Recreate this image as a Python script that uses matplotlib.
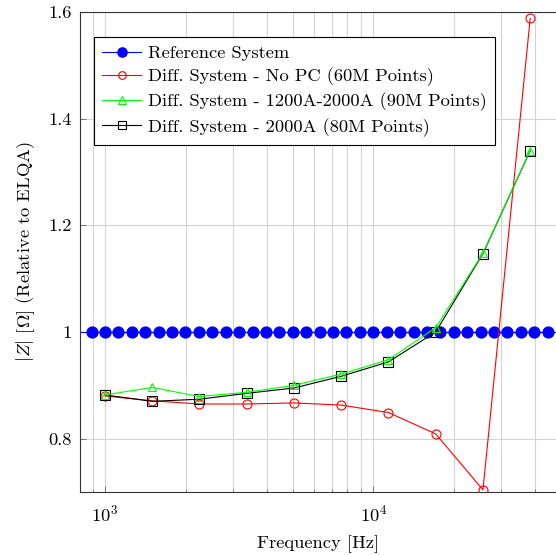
import matplotlib
matplotlib.use("Agg")
import matplotlib.pyplot as plt
from matplotlib.ticker import FixedLocator, FixedFormatter, LogLocator, NullFormatter

plt.rcParams['font.family'] = ['cmr10', 'DejaVu Serif']
plt.rcParams['mathtext.fontset'] = 'cm'
plt.rcParams['axes.formatter.use_mathtext'] = True
plt.rcParams['font.size'] = 13.3

# Reference system (constant 1)
ref_freq = [891, 1000, 1122, 1259, 1413, 1585, 1778, 1995, 2239, 2512, 2818, 3162,
            3548, 3981, 4467, 5012, 5623, 6310, 7079, 7943, 8913, 10000, 11220,
            12589, 14125, 15849, 17783, 19953, 22387, 25119, 28184, 31623, 35481,
            39811, 44668]
ref_vals = [1.0] * len(ref_freq)

freq = [1000, 1500, 2250, 3375, 5062.5, 7593.75, 11390.6, 17085.9, 25628.9, 38443.4]
no_pc = [0.880, 0.871, 0.865, 0.865, 0.867, 0.863, 0.849, 0.809, 0.704, 1.588]
pc_1200_2000 = [0.882, 0.896, 0.879, 0.887, 0.900, 0.921, 0.948, 1.008, 1.148, 1.340]
pc_2000 = [0.882, 0.870, 0.874, 0.885, 0.895, 0.917, 0.944, 1.000, 1.147, 1.340]

labels = ['Reference System',
          'Diff. System - No PC (60M Points)',
          'Diff. System - 1200A-2000A (90M Points)',
          'Diff. System - 2000A (80M Points)']

yticks = [0.8, 1.0, 1.2, 1.4, 1.6]
yticklabels = ['0.8', '1', '1.2', '1.4', '1.6']

fig = plt.figure(figsize=(5.56, 5.55), dpi=100)
ax = fig.add_axes([80/556, 63/555, 1 - 80/556, (492 - 12)/555])

ax.axhline(1.0, color='blue', lw=0.8, zorder=2)
ax.plot(ref_freq, ref_vals, '-o', color='blue', lw=0.8, ms=7.8,
        label=labels[0], zorder=3)
ax.plot(freq, no_pc, '-o', color='red', lw=0.8, ms=6.5, mfc='none', mew=0.8,
        label=labels[1], zorder=4)
ax.plot(freq, pc_1200_2000, '-^', color='#00ff00', lw=0.8, ms=6.0, mfc='none', mew=0.8,
        label=labels[2], zorder=5)
ax.plot(freq, pc_2000, '-s', color='black', lw=0.8, ms=6.5, mfc='none', mew=0.8,
        label=labels[3], zorder=4.5)

ax.set_xscale('log')
ax.set_xlim(10**2.9068, 10**4.681)
ax.set_ylim(0.7, 1.6)

ax.yaxis.set_major_locator(FixedLocator(yticks))
ax.yaxis.set_major_formatter(FixedFormatter(yticklabels))
ax.xaxis.set_major_locator(LogLocator(base=10))
ax.xaxis.set_minor_locator(LogLocator(base=10, subs=range(2, 10)))
ax.xaxis.set_minor_formatter(NullFormatter())

ax.grid(True, which='major', color='#d3d3d3', lw=0.8)
ax.grid(True, which='minor', axis='x', color='#d3d3d3', lw=0.8)
ax.set_axisbelow(True)

ax.tick_params(which='major', direction='in', length=4, width=0.6, color='#666666',
               top=False, right=False, pad=6)
ax.tick_params(axis='x', which='major', pad=8)
ax.tick_params(which='minor', direction='in', length=2.5, width=0.5, color='#666666',
               top=False, right=False)

for s in ['left', 'bottom', 'top']:
    ax.spines[s].set_linewidth(0.8)
    ax.spines[s].set_color('#333333')
ax.spines['right'].set_visible(False)

ax.set_xlabel('Frequency [Hz]', labelpad=8)
ax.set_ylabel(r'$|Z|$ [$\Omega$] (Relative to ELQA)', labelpad=8)

leg = ax.legend(loc='upper left', bbox_to_anchor=((94 - 80)/476, 1 - (37 - 12)/480),
                frameon=True, fancybox=False, edgecolor='black', framealpha=1,
                handlelength=2.1, borderpad=0.45, labelspacing=0.35, handletextpad=0.35,
                borderaxespad=0.0, markerscale=0.85)
leg.get_frame().set_linewidth(0.8)

fig.savefig('out.png', dpi=100)
